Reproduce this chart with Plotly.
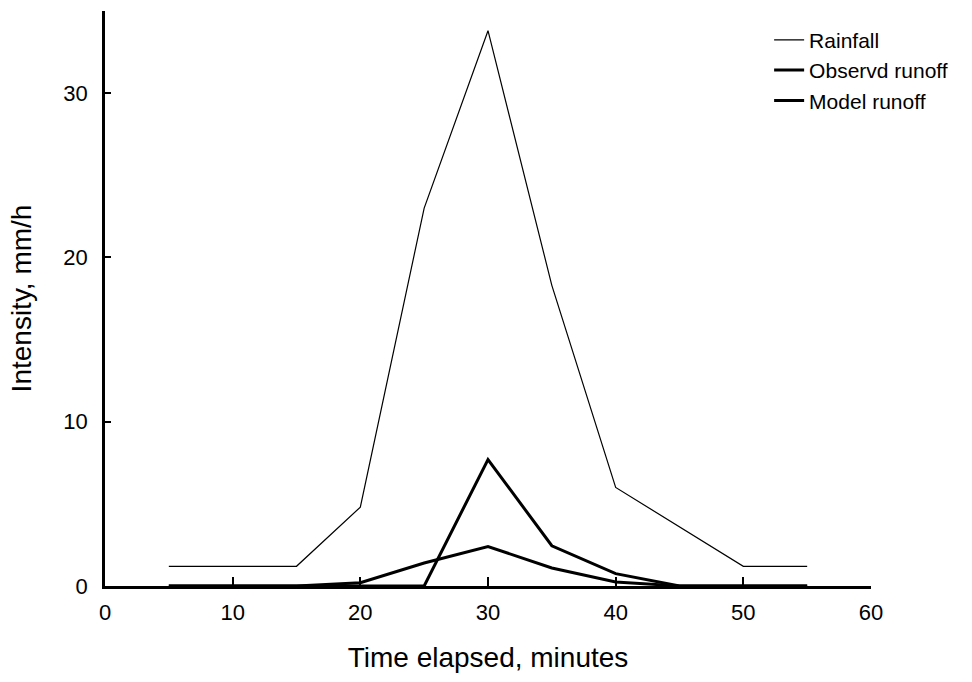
import plotly.graph_objects as go

# Time steps (minutes) and intensities (mm/h)
minutes = [5, 10, 15, 20, 25, 30, 35, 40, 45, 50, 55]
rainfall = [1.2, 1.2, 1.2, 4.8, 23.0, 33.8, 18.3, 6.0, 3.6, 1.2, 1.2]
observed_runoff = [0, 0, 0, 0, 0, 7.7, 2.45, 0.75, 0, 0, 0]
model_runoff = [0, 0, 0, 0.2, 1.4, 2.4, 1.1, 0.25, 0, 0, 0]

x_ticks = [0, 10, 20, 30, 40, 50, 60]
y_ticks = [0, 10, 20, 30]

FONT = "Liberation Sans, Arial, sans-serif"

fig = go.Figure()
fig.add_trace(go.Scatter(x=minutes, y=rainfall, mode="lines", name="Rainfall",
                         line=dict(color="black", width=1.2)))
fig.add_trace(go.Scatter(x=minutes, y=observed_runoff, mode="lines", name="Observd runoff",
                         line=dict(color="black", width=3)))
fig.add_trace(go.Scatter(x=minutes, y=model_runoff, mode="lines", name="Model runoff",
                         line=dict(color="black", width=3)))

fig.update_layout(
    width=972, height=682,
    margin=dict(l=105, r=101, t=11, b=96),
    paper_bgcolor="white", plot_bgcolor="white",
    font=dict(family=FONT, color="black", size=22),
    legend=dict(x=0.867, y=0.985, xanchor="left", yanchor="top",
                bgcolor="rgba(0,0,0,0)", font=dict(size=21),
                tracegroupgap=0, itemwidth=30),
    xaxis=dict(range=[0, 60], tickvals=x_ticks, ticks="inside", ticklen=9,
               tickwidth=2, tickcolor="black", showline=True, linewidth=3,
               linecolor="black", showgrid=False, zeroline=False, automargin=False,
               tickfont=dict(size=22), ticklabelstandoff=5,
               title=dict(text="Time elapsed, minutes", font=dict(size=28), standoff=23)),
    yaxis=dict(range=[0, 35], tickvals=y_ticks, ticks="inside", ticklen=6,
               tickwidth=1.5, tickcolor="black", showline=True, linewidth=2.5,
               linecolor="black", showgrid=False, zeroline=False, automargin=False,
               tickfont=dict(size=22), ticklabelstandoff=10,
               title=dict(text="Intensity, mm/h", font=dict(size=28), standoff=24)),
    showlegend=True,
)

fig.write_html("out.html")
